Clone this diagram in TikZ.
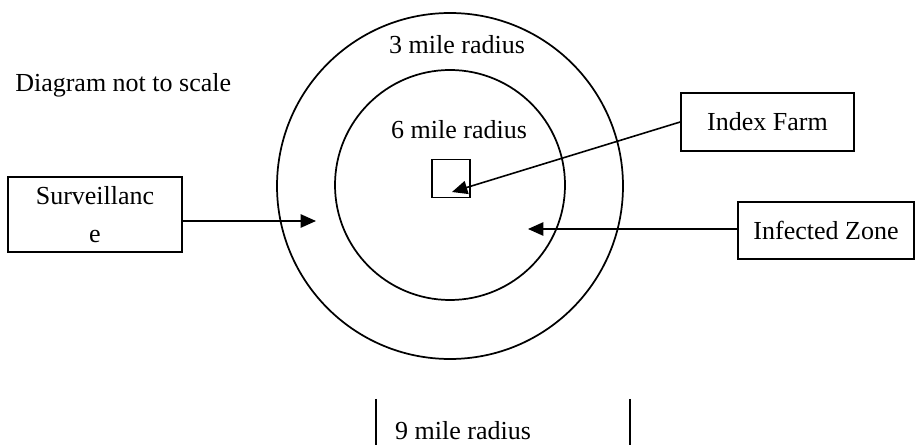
\documentclass[tikz,border=0pt]{standalone}
\usepackage{fontspec}
\setmainfont{Liberation Serif}
\usetikzlibrary{arrows.meta}
\tikzset{
    >={Triangle[length=11.5pt,width=10pt]},
    zone ring/.style={draw=black, line width=1.3pt},
    label box/.style={draw=black, line width=1.5pt, fill=white,
                     inner sep=0pt, align=center, font=\fontsize{19.5}{29}\selectfont},
    farm box/.style={draw=black, line width=1.4pt, minimum size=28.5pt, inner sep=0pt},
    pointer/.style={black, line width=1.2pt, ->},
    plain text/.style={font=\fontsize{19.5}{23}\selectfont, inner sep=0pt},
    scale bar/.style={black, line width=1.4pt},
}
\begin{document}
\begin{tikzpicture}[x=0.75pt,y=-0.75pt]
\useasboundingbox (0,0) rectangle (918,445);

% Control zones round the index farm.
\draw[zone ring] (450,186) circle (173);
\draw[zone ring] (450,185) circle (115);
\node[farm box] (farm) at (451,178.5) {};
\node[plain text] (outerlbl) at (457,45) {3 mile radius};
\node[plain text] (innerlbl) at (459,130) {6 mile radius};
\node[plain text, anchor=west] (note) at (15,85) {Diagram not to scale};

% Labels pointing into the zones.
\node[label box, minimum width=130.5pt, minimum height=56pt] (surv) at (95,214.5)
    {\raisebox{-2pt}{Surveillanc}\\\raisebox{-2pt}{e}};
\node[label box, minimum width=129.5pt, minimum height=43.5pt] (index) at (767.5,122)
    {Index Farm};
\node[label box, minimum width=132pt, minimum height=43pt] (infected) at (826,230.5)
    {Infected Zone};

\coordinate (survpt) at (316,221);
\coordinate (farmpt) at (452,192);
\coordinate (zonept) at (528,229);
\draw[pointer] (surv.east |- survpt) -- (survpt);
\draw[pointer] (index.west) -- (farmpt);
\draw[pointer] (infected.west |- zonept) -- (zonept);

% Scale bar along the bottom.
\coordinate (barL) at (376,399);
\coordinate (barR) at (630,399);
\draw[scale bar] (barL) -- ++(0,46);
\draw[scale bar] (barR) -- ++(0,46);
\node[plain text] (scalelbl) at (463,431) {9 mile radius};

\end{tikzpicture}
\end{document}
